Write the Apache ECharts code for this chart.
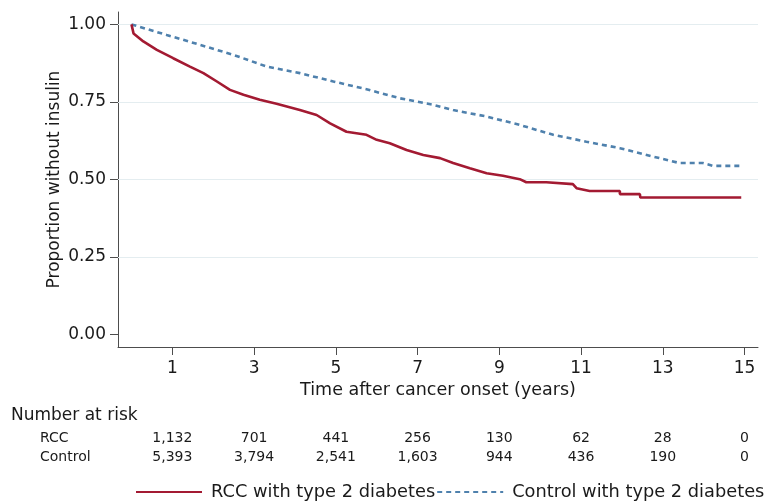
<!DOCTYPE html>
<html>
<head>
<meta charset="utf-8">
<script src="https://cdn.jsdelivr.net/npm/echarts@6/dist/echarts.min.js"></script>
<style>html,body{margin:0;padding:0;background:#fff}#c{width:767px;height:504px}</style>
</head>
<body>
<div id="c"></div>
<script>
// ---- data ----
const rccTime = [0, 0.05, 0.29, 0.62, 1.02, 1.43, 1.76, 2.09, 2.41, 2.74, 3.14, 3.55, 4.12, 4.53, 4.86, 5.26, 5.75, 6.0, 6.32, 6.73, 7.14, 7.55, 7.87, 8.28, 8.69, 9.09, 9.50, 9.66, 10.15, 10.19, 10.80, 10.89, 11.21, 11.95, 11.95, 12.44, 12.45, 14.92];
const rccSurv = [1.0, 0.971, 0.945, 0.918, 0.891, 0.864, 0.843, 0.816, 0.789, 0.773, 0.757, 0.744, 0.724, 0.708, 0.681, 0.654, 0.644, 0.628, 0.617, 0.595, 0.579, 0.569, 0.553, 0.536, 0.520, 0.512, 0.501, 0.491, 0.491, 0.485, 0.485, 0.472, 0.463, 0.463, 0.453, 0.453, 0.442, 0.442];
const ctrlTime = [0, 0.86, 1.68, 2.49, 3.31, 4.12, 4.94, 5.75, 6.56, 7.38, 7.87, 8.69, 9.50, 10.32, 11.13, 11.95, 12.76, 13.41, 13.98, 14.23, 14.96];
const ctrlSurv = [1.0, 0.966, 0.934, 0.902, 0.864, 0.843, 0.816, 0.791, 0.762, 0.741, 0.724, 0.703, 0.676, 0.644, 0.622, 0.601, 0.574, 0.553, 0.553, 0.544, 0.544];
const xTicks = [1, 3, 5, 7, 9, 11, 13, 15];
const yTicks = [0, 0.25, 0.5, 0.75, 1.0];
const gridYs = [0.25, 0.5, 0.75, 1.0];
const rccRisk = ['1,132', '701', '441', '256', '130', '62', '28', '0'];
const ctrlRisk = ['5,393', '3,794', '2,541', '1,603', '944', '436', '190', '0'];
const seriesNames = ['RCC with type 2 diabetes', 'Control with type 2 diabetes'];

const FONT = 'DejaVu Sans';
const TXT = '#1a1a1a';
const RED = '#a31a32';
const BLUE = '#4f81ad';
const AXC = '#4d4d4d';

const zip = (a, b) => a.map((v, i) => [v, b[i]]);

function riskAxis(values, offset) {
  return {
    type: 'value', gridIndex: 0, position: 'bottom', offset: offset,
    min: -0.33, max: 15.33,
    axisLine: {show: false, onZero: false}, axisTick: {show: false}, splitLine: {show: false},
    axisLabel: {
      customValues: xTicks, margin: 0,
      fontFamily: FONT, fontSize: 14, color: TXT,
      formatter: v => values[xTicks.indexOf(Math.round(v))] ?? ''
    }
  };
}

const chart = echarts.init(document.getElementById('c'));
chart.setOption({
  animation: false,
  backgroundColor: '#fff',
  grid: {left: 118, right: 9, top: 12, bottom: 157, containLabel: false},
  xAxis: [
    {
      type: 'value', min: -0.33, max: 15.33, position: 'bottom',
      name: 'Time after cancer onset (years)', nameLocation: 'middle', nameGap: 29,
      nameTextStyle: {fontFamily: FONT, fontSize: 17.5, color: TXT},
      axisLine: {show: true, onZero: false, lineStyle: {color: AXC, width: 1}},
      axisTick: {show: true, customValues: xTicks, length: 8, lineStyle: {color: AXC}},
      axisLabel: {customValues: xTicks, margin: 13, fontFamily: FONT, fontSize: 17, color: TXT},
      splitLine: {show: false}
    },
    riskAxis(rccRisk, 84),
    riskAxis(ctrlRisk, 103)
  ],
  yAxis: {
    type: 'value', min: -0.04, max: 1.04, position: 'left',
    name: 'Proportion without insulin', nameLocation: 'middle', nameGap: 55,
    nameMoveOverlap: false,
    nameTextStyle: {fontFamily: FONT, fontSize: 17, color: TXT},
    axisLine: {show: true, onZero: false, lineStyle: {color: AXC, width: 1}},
    axisTick: {show: true, customValues: yTicks, length: 8, lineStyle: {color: AXC}},
    axisLabel: {customValues: yTicks, margin: 12, fontFamily: FONT, fontSize: 17, color: TXT,
      formatter: v => v.toFixed(2)},
    splitLine: {show: false}
  },
  legend: {
    left: 135, top: 483, width: 640, padding: 0, itemWidth: 66, itemHeight: 12, itemGap: 1,
    data: seriesNames,
    itemStyle: {opacity: 0},
    textStyle: {fontFamily: FONT, fontSize: 17.8, color: TXT, padding: [0, 0, 0, 4]}
  },
  graphic: [
    {type: 'text', left: 11, top: 407, style: {text: 'Number at risk', font: '17px "DejaVu Sans"', fill: TXT}},
    {type: 'text', left: 40, top: 431, style: {text: 'RCC', font: '14px "DejaVu Sans"', fill: TXT}},
    {type: 'text', left: 40, top: 450, style: {text: 'Control', font: '14px "DejaVu Sans"', fill: TXT}}
  ],
  series: [
    {
      type: 'line', name: 'grid', data: [], z: 1, silent: true,
      markLine: {silent: true, z: 1, symbol: 'none', label: {show: false},
        lineStyle: {color: '#e4edf0', width: 1, type: 'solid'},
        data: gridYs.map(v => ({yAxis: v}))}
    },
    {
      type: 'line', name: seriesNames[0], data: zip(rccTime, rccSurv), z: 4,
      symbol: 'none', showSymbol: false,
      lineStyle: {color: RED, width: 2.6}, itemStyle: {color: RED}
    },
    {
      type: 'line', name: seriesNames[1], data: zip(ctrlTime, ctrlSurv), z: 3,
      symbol: 'none', showSymbol: false,
      lineStyle: {color: BLUE, width: 2.6, type: [5, 4]}, itemStyle: {color: BLUE}
    }
  ]
});
</script>
</body>
</html>
